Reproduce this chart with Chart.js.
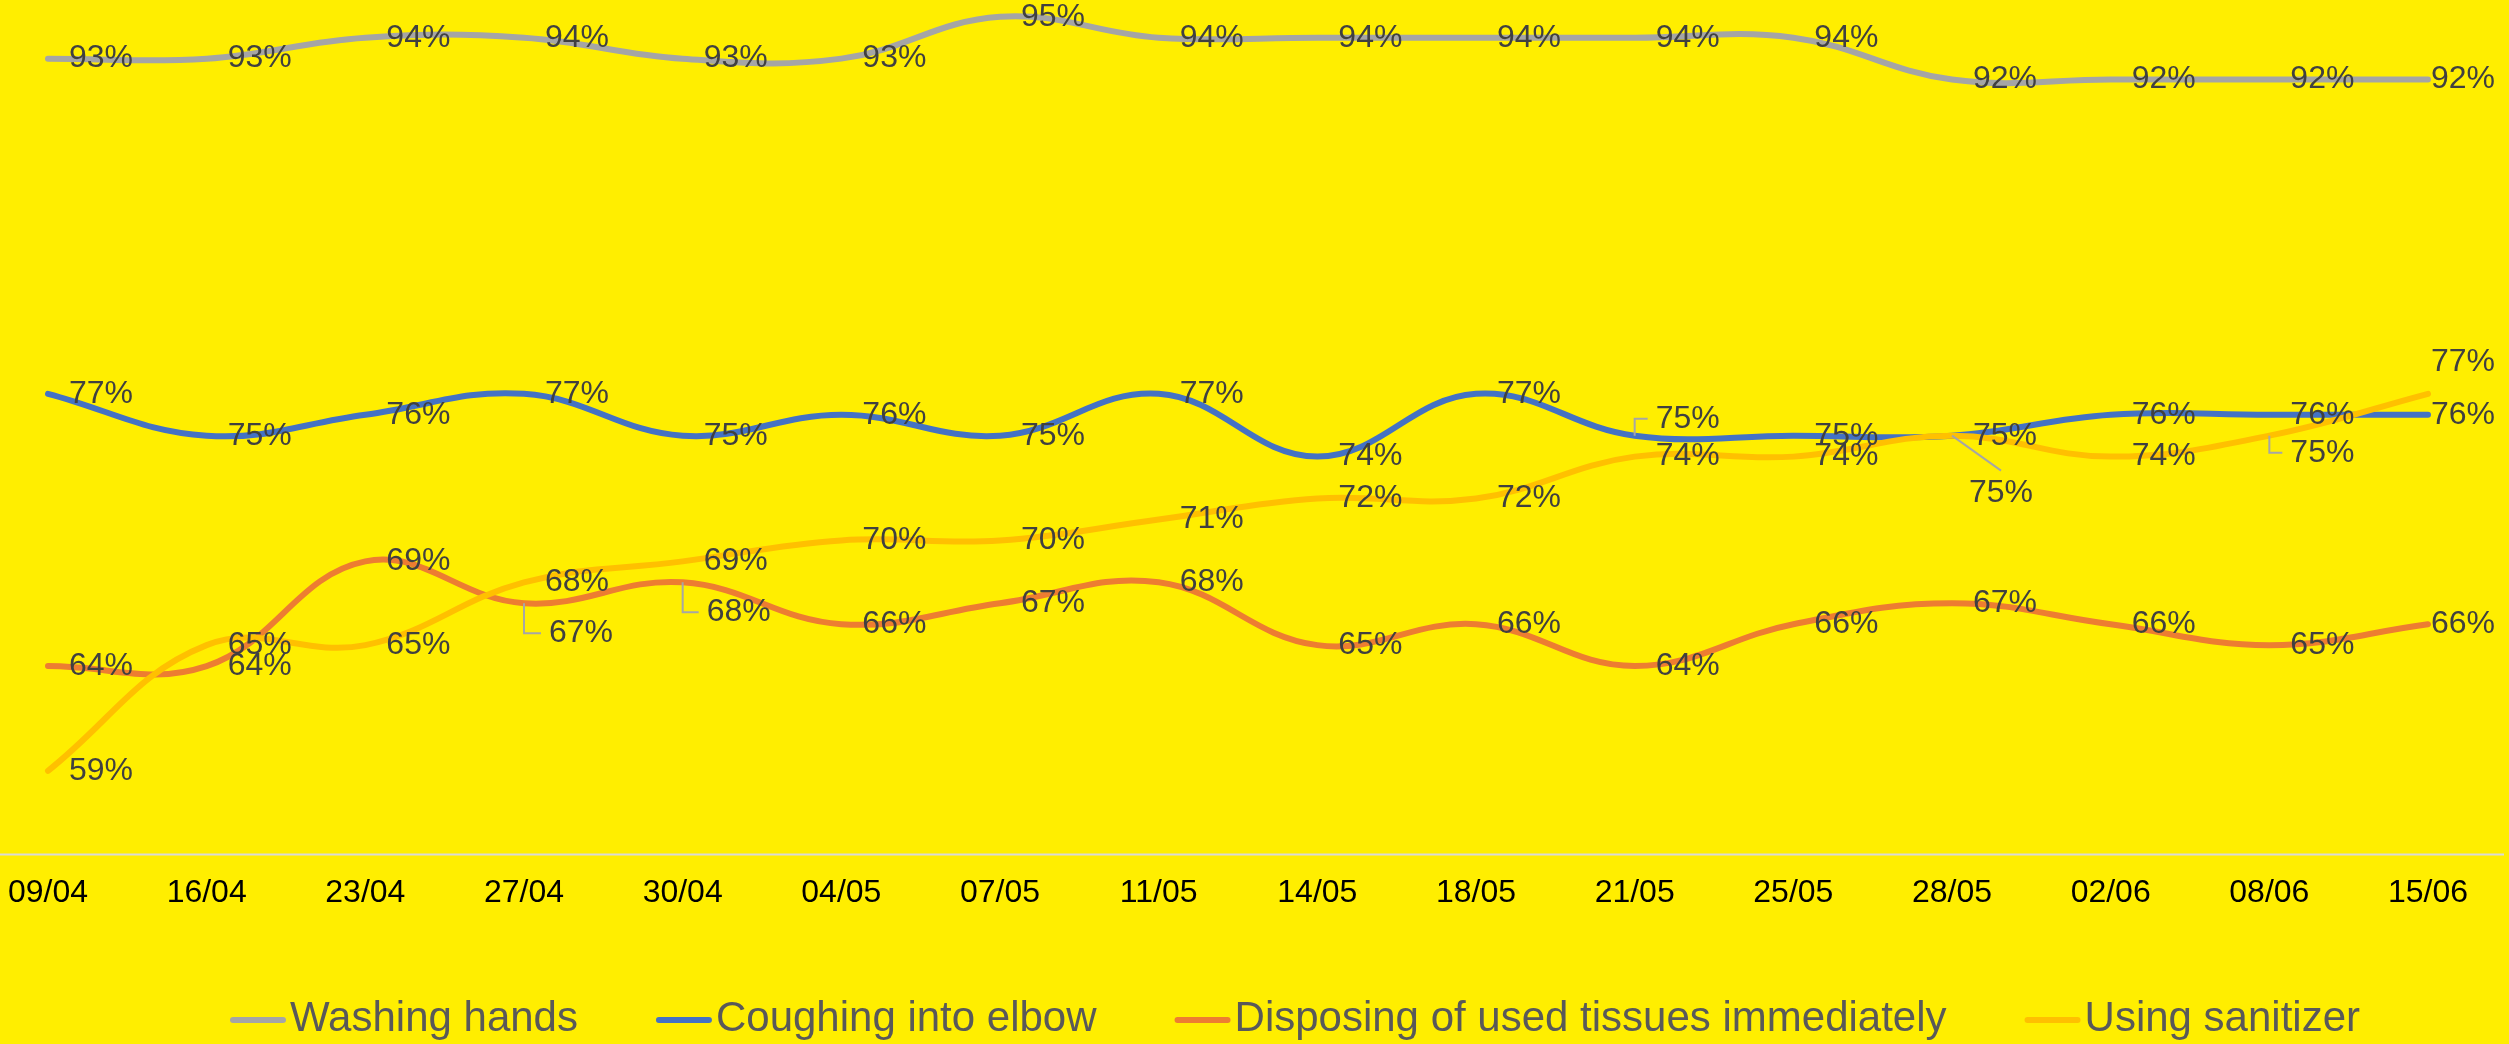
<!DOCTYPE html>
<html>
<head>
<meta charset="utf-8">
<title>Hygiene practices</title>
<script src="https://cdn.jsdelivr.net/npm/chart.js@4.4.1/dist/chart.umd.min.js"></script>
<style>
  html, body { margin: 0; padding: 0; background: #FFEE00; }
  canvas { display: block; }
</style>
</head>
<body>
<canvas id="chart" width="2509" height="1044"></canvas>
<script>
const dates = ['09/04', '16/04', '23/04', '27/04', '30/04', '04/05', '07/05', '11/05',
               '14/05', '18/05', '21/05', '25/05', '28/05', '02/06', '08/06', '15/06'];

const washingHands     = [93, 93, 94, 94, 93, 93, 95, 94, 94, 94, 94, 94, 92, 92, 92, 92];
const coughingElbow    = [77, 75, 76, 77, 75, 76, 75, 77, 74, 77, 75, 75, 75, 76, 76, 76];
const disposingTissues = [64, 64, 69, 67, 68, 66, 67, 68, 65, 66, 64, 66, 67, 66, 65, 66];
const usingSanitizer   = [59, 65, 65, 68, 69, 70, 70, 71, 72, 72, 74, 74, 75, 74, 75, 77];

const seriesNames  = ['Washing hands', 'Coughing into elbow', 'Disposing of used tissues immediately', 'Using sanitizer'];
const seriesColors = ['#A5A5A5', '#4472C4', '#ED7D31', '#FFC000'];

const FONT = '"Liberation Sans", Arial, sans-serif';

// labels that were moved by hand in the original (dataset index -> point index)
const labelNudges = {
    1: { 10: { dy: -17, leader: 'elbow' } },
    2: { 3: { dx: 4, dy: 30, leader: 'elbow' }, 4: { dx: 3, dy: 30, leader: 'elbow' } },
    3: { 12: { dx: -4, dy: 57, leader: 'diag' }, 14: { dy: 17, leader: 'elbow' }, 15: { dy: -32 } }
};

// x axis line runs across the whole width
const axisLine = {
    id: 'axisLine',
    beforeDatasetsDraw(chart) {
        const ctx = chart.ctx;
        const y = chart.chartArea.bottom;
        ctx.save();
        ctx.strokeStyle = '#D9D9D9';
        ctx.lineWidth = 2;
        ctx.beginPath();
        ctx.moveTo(0, y);
        ctx.lineTo(chart.width - 5, y);
        ctx.stroke();
        ctx.restore();
    }
};

const pointLabels = {
    id: 'pointLabels',
    afterDatasetsDraw(chart) {
        const ctx = chart.ctx;
        ctx.save();
        ctx.font = '32px ' + FONT;
        ctx.textBaseline = 'middle';
        ctx.textAlign = 'left';
        chart.data.datasets.forEach((ds, di) => {
            const meta = chart.getDatasetMeta(di);
            meta.data.forEach((pt, i) => {
                const text = ds.data[i] + '%';
                const w = ctx.measureText(text).width;
                const nudge = (labelNudges[di] || {})[i] || {};
                let lx = pt.x + 21 + (nudge.dx || 0);
                const ly = pt.y + (nudge.dy || 0);
                if (lx + w > chart.width - 14) {
                    lx = chart.width - 14 - w;
                }
                if (nudge.leader) {
                    ctx.strokeStyle = '#A6A6A6';
                    ctx.lineWidth = 2;
                    ctx.beginPath();
                    ctx.moveTo(pt.x, pt.y);
                    if (nudge.leader === 'elbow') {
                        ctx.lineTo(pt.x, ly);
                        ctx.lineTo(lx - 8, ly);
                    } else {
                        ctx.lineTo(lx + w / 2, ly - 22);
                    }
                    ctx.stroke();
                }
                ctx.fillStyle = '#404040';
                ctx.fillText(text, lx, ly);
            });
        });
        ctx.restore();
    }
};

// legend drawn by hand so the swatch sits right next to the text like the original
const bottomLegend = {
    id: 'bottomLegend',
    afterDraw(chart) {
        const ctx = chart.ctx;
        const y = 1019;
        let x = 230;
        ctx.save();
        ctx.font = '42px ' + FONT;
        ctx.textBaseline = 'middle';
        ctx.textAlign = 'left';
        chart.data.datasets.forEach((ds) => {
            ctx.strokeStyle = ds.borderColor;
            ctx.lineWidth = 6;
            ctx.lineCap = 'round';
            ctx.beginPath();
            ctx.moveTo(x + 3, y + 1);
            ctx.lineTo(x + 53, y + 1);
            ctx.stroke();
            ctx.fillStyle = '#595959';
            ctx.fillText(ds.label, x + 60, y);
            x += 60 + ctx.measureText(ds.label).width + 78;
        });
        ctx.restore();
    }
};

const seriesData = [washingHands, coughingElbow, disposingTissues, usingSanitizer];

const ctx = document.getElementById('chart').getContext('2d');
const myChart = new Chart(ctx, {
    type: 'line',
    data: {
        labels: dates,
        datasets: seriesData.map((vals, i) => ({
            label: seriesNames[i],
            data: vals,
            borderColor: seriesColors[i],
            backgroundColor: seriesColors[i],
            borderWidth: 6,
            borderCapStyle: 'round',
            tension: 0.4,
            pointRadius: 0,
            pointHoverRadius: 0,
            fill: false,
            clip: false,
            order: seriesData.length - i
        }))
    },
    options: {
        responsive: false,
        devicePixelRatio: 1,
        animation: false,
        layout: {
            padding: { left: 48, right: 81, top: 0, bottom: 113 }
        },
        plugins: {
            legend: { display: false },
            tooltip: { enabled: false }
        },
        scales: {
            x: {
                type: 'category',
                offset: false,
                grid: { display: false, drawTicks: false },
                border: { display: false },
                ticks: {
                    color: '#000000',
                    font: { size: 32, family: FONT },
                    padding: 19,
                    maxRotation: 0,
                    autoSkip: false
                },
                afterFit(scale) {
                    // let the layout padding alone decide where the first/last point sits
                    scale.paddingLeft = 0;
                    scale.paddingRight = 0;
                }
            },
            y: {
                display: false,
                min: 55,
                max: 95.8
            }
        }
    },
    plugins: [axisLine, pointLabels, bottomLegend]
});
</script>
</body>
</html>
